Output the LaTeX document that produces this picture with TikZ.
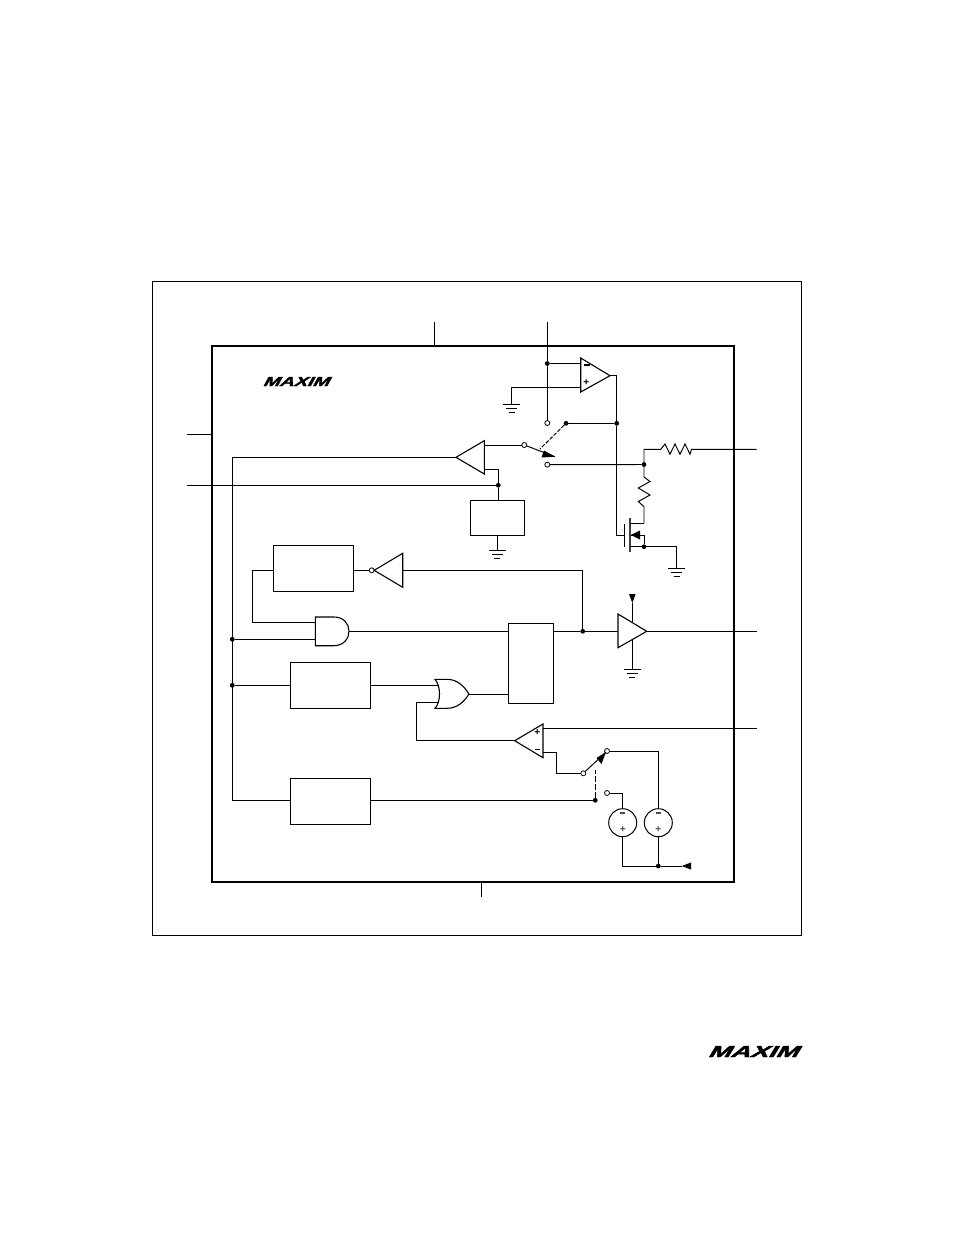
\documentclass[tikz,border=0pt]{standalone}
\usepackage{fontspec}
\usepackage{graphicx}
\newfontfamily\logofont[FakeBold=2.5,FakeSlant=0.45,FakeStretch=1.25]{Liberation Sans}
\newfontfamily\sgnfont{Liberation Sans}
\newcommand{\maximlogo}[2]{\resizebox{#1}{#2}{\logofont\bfseries MAXIM}}
\newcommand{\minussign}{\rule{5.5pt}{1.4pt}}
\tikzset{
  wire/.style={line width=0.95pt,line join=miter},
  blk/.style={draw,line width=1pt,inner sep=0pt,outer sep=0pt},
  dotn/.style={circle,fill=black,draw=none,inner sep=0pt,outer sep=0pt,minimum size=4.8pt},
  opn/.style={circle,draw,fill=white,line width=0.8pt,inner sep=0pt,outer sep=0pt,minimum size=5pt},
  src/.style={circle,draw,line width=1pt,inner sep=0pt,outer sep=0pt,minimum size=28pt},
  sgn/.style={inner sep=0pt,font=\fontsize{10}{10}\sgnfont\bfseries},
  gate/.style={line width=1.1pt,line join=miter},
  gnd/.pic={\draw[line width=0.95pt] (-8.5,0)--(8.5,0) (-5.5,4)--(5.5,4) (-3,8)--(3,8);},
}
\begin{document}
\begin{tikzpicture}[x=1pt,y=-1pt]
\useasboundingbox (0,0) rectangle (954,1235);
\fill[white] (0,0) rectangle (954,1235);
% frames
\node[blk,line width=0.9pt,minimum width=649.5pt,minimum height=654.5pt] (frame) at (477,608.2) {};
\node[blk,line width=2.1pt,minimum width=522pt,minimum height=536pt] (chip) at (473.2,614) {};
% logos
\node[inner sep=0pt] (logoa) at (295.5,381.5) {\maximlogo{66pt}{9pt}};
\node[inner sep=0pt] (logob) at (752.5,1051.5) {\maximlogo{90pt}{11pt}};
% pins
\coordinate (pt1) at (434.7,322); \coordinate (pb1) at (434.7,346);
\coordinate (pt2) at (547.3,322);
\coordinate (pl1) at (187,434.7); \coordinate (pl1e) at (212,434.7);
\coordinate (pl2) at (187,485.3);
\coordinate (pb2) at (481.3,896.7); \coordinate (pb2e) at (481.3,882);
\draw[wire] (pt1)--(pb1);
\draw[wire] (pl1)--(pl1e);
\draw[wire] (pb2)--(pb2e);
% boxes
\node[blk,minimum width=54pt,minimum height=35pt] (ref) at (497.3,517.8) {};
\node[blk,minimum width=80pt,minimum height=46pt] (boxa) at (313.3,568.3) {};
\node[blk,minimum width=80.5pt,minimum height=46.5pt] (boxb) at (330.3,685.3) {};
\node[blk,minimum width=80.5pt,minimum height=46pt] (boxc) at (330.3,801) {};
\node[blk,minimum width=45.4pt,minimum height=80pt] (latch) at (531,663.3) {};
% dots
\node[dotn] (d1) at (547.3,363.5) {};
\node[dotn] (d2) at (566,423.3) {};
\node[dotn] (d3) at (616.7,423.3) {};
\node[dotn] (d4) at (644,464.5) {};
\node[dotn] (d5) at (498.3,485.3) {};
\node[dotn] (d6) at (644,546.7) {};
\node[dotn] (d7) at (582.7,631.3) {};
\node[dotn] (d8) at (232.3,639.3) {};
\node[dotn] (d9) at (232.3,685.3) {};
\node[dotn] (d10) at (595.3,800.3) {};
\node[dotn] (d11) at (658.3,866) {};
% open circles
\node[opn] (c1) at (547.3,423) {};
\node[opn] (c2) at (524.3,445) {};
\node[opn] (c3) at (547.3,464.7) {};
\node[opn] (c4) at (371.7,570.3) {};
\node[opn] (c5) at (583.3,773.3) {};
\node[opn] (c6) at (607,751) {};
\node[opn] (c7) at (607,793) {};
% sources
\node[src] (s1) at (622.7,822.7) {};
\node[src] (s2) at (658.3,822.7) {};
\node[sgn,text=black!70] at (622.7,813) {\minussign};
\node[sgn,text=black!70] at (658.3,813) {\minussign};
\node[sgn,text=black!70] at (622.7,830) {+};
\node[sgn,text=black!70] at (658.3,830) {+};
% op-amp A
\coordinate (oa1) at (580.7,358); \coordinate (oa2) at (580.7,392); \coordinate (oa) at (610,375.7);
\draw[gate,fill=white] (oa1)--(oa)--(oa2)--cycle;
\node[sgn] at (586.8,365) {\minussign};
\node[sgn] at (586.3,382.5) {+};
\coordinate (oam) at (580.7,363.5); \coordinate (oap) at (580.7,387.5);
\coordinate (g1) at (511.5,404);
\draw[wire] (pt2)--(d1)--(c1);
\draw[wire] (d1)--(oam);
\draw[wire] (oap)-|(g1);
\pic at (g1) {gnd};
% output to mosfet
\coordinate (mg) at (624.3,535);
\coordinate (mgt) at (624.3,524); \coordinate (mgb) at (624.3,546.7);
\coordinate (mct) at (630,518); \coordinate (mcb) at (630,551.7);
\coordinate (md) at (630,523.3); \coordinate (ms) at (630,546.7);
\draw[wire] (oa)-|(d3)--(d2);
\draw[wire] (d3)|-(mg);
\draw[gate] (mgt)--(mgb);
\draw[line width=1.6pt,black!75] (mct)--(mcb);
\coordinate (mdr) at (644,523.3);
\draw[wire] (md)--(mdr);
\draw[wire] (ms)--(d6);
\coordinate (g2) at (676.7,568);
\draw[wire] (d6)-|(g2);
\pic at (g2) {gnd};
\coordinate (mb) at (644,535); \coordinate (mat) at (630.7,535);
\fill (mat)--(640,530.5)--(640,539.5)--cycle;
\draw[wire] (mat)--(mb)--(d6);
% resistors
\coordinate (rh0) at (644,449.3); \coordinate (rout) at (756.7,449.3);
\draw[wire] (d4)--(rh0)--(660.7,449.3)--(665,444)--(670,454.3)--(675,444)--(680,454.3)--(685,444)--(690,454.3)--(691.5,449.3)--(rout);
\draw[wire] (d4)--(644,477)--(650,481.5)--(638.3,488)--(650,495)--(638.3,501.5)--(644,506.7)--(mdr);
% switch 1
\coordinate (sw1) at (555,456.7);
\draw[wire] (c2)--(sw1);
\fill (sw1)--(544,450.5)--(541.5,457.5)--cycle;
\draw[wire,dashed,dash pattern=on 4pt off 1.5pt] (d2)--(540,449);
\draw[wire] (c3)--(d4);
% buffer
\coordinate (bt) at (484.3,440.7); \coordinate (bb) at (484.3,474); \coordinate (bf) at (456,457.3);
\draw[gate,fill=white] (bt)--(bf)--(bb)--cycle;
\coordinate (bo) at (484.3,445); \coordinate (bp) at (484.3,469.3);
\draw[wire] (bo)--(c2);
\draw[wire] (bp)-|(d5)--(ref.north-|d5);
\draw[wire] (pl2)--(d5);
\coordinate (g3) at (497.3,550);
\draw[wire] (ref.south-|g3)--(g3);
\pic at (g3) {gnd};
% left bus
\coordinate (busT) at (232.3,457.3);
\coordinate (busB) at (232.3,800.3);
\draw[wire] (bf)--(busT)--(busB)--(boxc.west|-busB);
\draw[wire] (d9)--(boxb.west|-d9);
% inverter
\coordinate (it) at (402.7,553.3); \coordinate (ib) at (402.7,587.3); \coordinate (if) at (374.2,570.3);
\draw[gate,fill=white] (it)--(if)--(ib)--cycle;
\coordinate (ii) at (402.7,570.3);
\draw[wire] (ii)-|(d7);
\draw[wire] (c4)--(boxa.east|-c4);
% AND
\coordinate (an1) at (315.3,617); \coordinate (an2) at (315.3,645.7); \coordinate (ano) at (349,631.3);
\draw[gate,fill=white] (334,617)--(an1)--(an2)--(334,645.7) .. controls (344,645.7) and (349,638) .. (ano) .. controls (349,624) and (344,617) .. (334,617);
\coordinate (ani) at (315.3,622.3); \coordinate (anj) at (315.3,639.3); \coordinate (lp) at (252.3,570.3);
\draw[wire] (boxa.west|-lp)--(lp)|-(ani);
\draw[wire] (d8)--(anj);
\draw[wire] (ano)--(latch.west|-ano);
% amp
\coordinate (at) at (618,614); \coordinate (ab) at (618,647.7); \coordinate (af) at (646.7,631.3);
\draw[gate,fill=white] (at)--(af)--(ab)--cycle;
\coordinate (ai) at (618,631.3); \coordinate (aout) at (757,631.3);
\draw[wire] (latch.east|-ai)--(d7)--(ai);
\draw[wire] (af)--(aout);
\coordinate (vt) at (632.3,603); \coordinate (vu) at (632.3,622.3); \coordinate (vd) at (632.3,639.8); \coordinate (g4) at (632.3,669.3);
\draw[wire] (vt)--(vu);
\fill (632.3,603)--(629,594)--(635.6,594)--cycle;
\draw[wire] (vd)--(g4);
\pic at (g4) {gnd};
% OR
\coordinate (o1) at (435,679.3); \coordinate (o2) at (435,708.3); \coordinate (oo) at (469,694);
\draw[gate,fill=white] (o1) .. controls (441,686) and (441,702) .. (o2) -- (447,708.3) .. controls (457,708.3) and (464,702) .. (oo) .. controls (464,686) and (457,679.3) .. (447,679.3) -- cycle;
\coordinate (oi) at (438.3,685.3); \coordinate (oj) at (438.3,702.3);
\draw[wire] (boxb.east|-oi)--(oi);
\draw[wire] (oo)--(latch.west|-oo);
% comparator
\coordinate (ct) at (543,724); \coordinate (cb) at (543,757.7); \coordinate (cf) at (514.7,740.7);
\draw[gate,fill=white] (ct)--(cf)--(cb)--cycle;
\node[sgn] at (537.3,732.7) {+};
\node[sgn] at (537.3,749.7) {\minussign};
\coordinate (lo) at (416.7,702.3);
\draw[wire] (oj)--(lo)|-(cf);
\coordinate (cp) at (543,728.3); \coordinate (cpo) at (757,728.3);
\draw[wire] (cp)--(cpo);
\coordinate (cm) at (543,752.7); \coordinate (cmk) at (556.3,752.7);
\draw[wire] (cm)--(cmk)|-(c5);
% switch 2
\coordinate (sw2) at (606,752);
\draw[wire] (c5)--(sw2);
\fill (sw2)--(596.5,758)--(601.5,764)--cycle;
\draw[wire,dashed,dash pattern=on 5.5pt off 2.5pt] (d10)--(595.3,770);
\draw[wire] (boxc.east|-d10)--(d10);
\draw[wire] (c6)-|(s2);
\draw[wire] (c7)-|(s1);
\coordinate (ar) at (681.7,866);
\draw[wire] (s1)|-(d11)--(ar);
\draw[wire] (s2)--(d11);
\fill (ar)--(691,862.5)--(691,869.5)--cycle;
\end{tikzpicture}
\end{document}
